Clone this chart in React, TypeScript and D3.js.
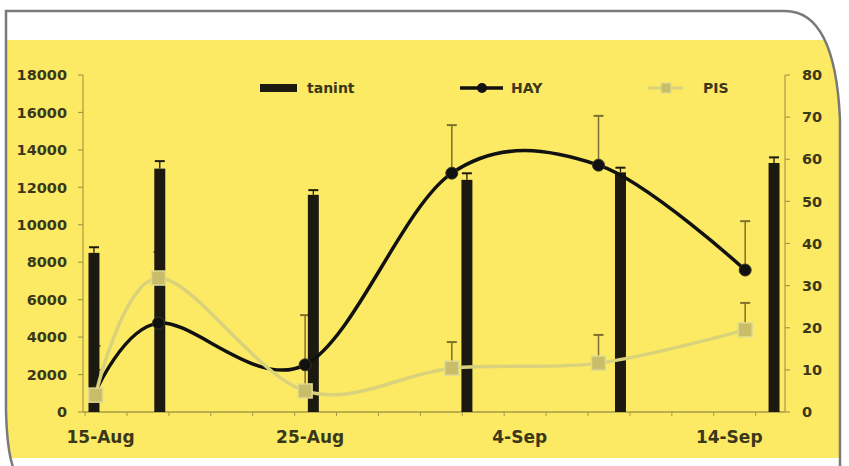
import React from 'react';
import * as d3 from 'd3';

// ---- data ----
const sampleDates = ['15-Aug', '18-Aug', '25-Aug', '1-Sep', '8-Sep', '15-Sep'];
const tanint = [8500, 13000, 11600, 12400, 12800, 13300];
const tanintErr = [300, 400, 250, 350, 250, 300];
const hay = [4.7, 21.1, 11.2, 56.7, 58.6, 33.7];
const hayErr = [11, 11.5, 11.8, 11.4, 11.7, 11.6];
const pis = [4, 31.8, 5, 10.4, 11.6, 19.5];
const pisErr = [6, 6.2, 6, 6.2, 6.7, 6.4];
const xTickLabels = ['15-Aug', '25-Aug', '4-Sep', '14-Sep'];
const leftTicks = [0, 2000, 4000, 6000, 8000, 10000, 12000, 14000, 16000, 18000];
const rightTicks = [0, 10, 20, 30, 40, 50, 60, 70, 80];
const seriesNames = ['tanint', 'HAY', 'PIS'];

const W = 849;
const H = 466;
const parse = d3.timeParse('%d-%b-%Y');
const origin = parse('15-Aug-2013') as Date;
const dayOf = (s: string) => d3.timeDay.count(origin, parse(s + '-2013') as Date);

const plotL = 83;
const plotR = 785;
const plotT = 75;
const plotB = 412;

const xLine = d3.scaleLinear().domain([-0.6, 32.9]).range([plotL, plotR]);
const xBar = d3.scaleLinear().domain([-0.5, 31.5]).range([plotL, plotR]);
const yL = d3.scaleLinear().domain([0, 18000]).range([plotB, plotT]);
const yR = d3.scaleLinear().domain([0, 80]).range([plotB, plotT]);

const YELLOW = '#fcea64';
const LABEL = '#3b3819';
const AXIS = '#a89a45';
const BAR = '#1c1a10';
const PISC = '#d9d27a';
const ERR = '#7d6f2e';
const FONT = 'DejaVu Sans, sans-serif';

const framePath =
  'M 15 472 Q 7 455 6 410 L 6 11 L 785 11 C 820 11 837 50 840 120 L 840 472';

export default function App() {
  const days = sampleDates.map(dayOf);
  const barW = (xBar(1) - xBar(0)) * 0.5;
  const line = d3
    .line<[number, number]>()
    .x((d) => d[0])
    .y((d) => d[1])
    .curve(d3.curveCardinal.tension(0));
  const hayPts: [number, number][] = days.map((d, i) => [xLine(d), yR(hay[i])]);
  const pisPts: [number, number][] = days.map((d, i) => [xLine(d), yR(pis[i])]);

  const minorTicks: number[] = [];
  for (let d = -0.5; xLine(d) <= plotR; d += 2) minorTicks.push(d);

  return (
    <svg
      width={W}
      height={H}
      style={{ position: 'absolute', left: 0, top: 0, background: '#fff' }}
      fontFamily={FONT}
    >
      <defs>
        <clipPath id="frameClip">
          <path d={framePath + ' Z'} />
        </clipPath>
      </defs>
      <g clipPath="url(#frameClip)">
        <rect x={0} y={40} width={W} height={418} fill={YELLOW} />
      </g>
      <path d={framePath} fill="none" stroke="#7a7a7a" strokeWidth={2.5} />

      {/* left axis */}
      <line x1={plotL} x2={plotL} y1={plotT} y2={plotB} stroke={AXIS} strokeWidth={1.2} />
      {leftTicks.map((t) => (
        <g key={'l' + t}>
          <line x1={plotL - 5} x2={plotL} y1={yL(t)} y2={yL(t)} stroke={AXIS} strokeWidth={1.2} />
          <text
            x={plotL - 16}
            y={yL(t)}
            dy="0.36em"
            textAnchor="end"
            fontSize={14.5}
            fontWeight="bold"
            fill={LABEL}
          >
            {t}
          </text>
        </g>
      ))}

      {/* right axis */}
      <line x1={plotR} x2={plotR} y1={plotT} y2={plotB} stroke={AXIS} strokeWidth={1.2} />
      {rightTicks.map((t) => (
        <g key={'r' + t}>
          <line x1={plotR} x2={plotR + 5} y1={yR(t)} y2={yR(t)} stroke={AXIS} strokeWidth={1.2} />
          <text
            x={plotR + 17}
            y={yR(t)}
            dy="0.36em"
            textAnchor="start"
            fontSize={14.5}
            fontWeight="bold"
            fill={LABEL}
          >
            {t}
          </text>
        </g>
      ))}

      {/* x axis */}
      <line x1={plotL} x2={plotR} y1={plotB} y2={plotB} stroke={AXIS} strokeWidth={1.5} />
      {minorTicks.map((d) => (
        <line key={'m' + d} x1={xLine(d)} x2={xLine(d)} y1={plotB} y2={plotB + 4} stroke={AXIS} strokeWidth={1} />
      ))}
      {xTickLabels.map((s) => (
        <text
          key={s}
          x={xLine(dayOf(s)) + 5}
          y={443}
          textAnchor="middle"
          fontSize={17}
          fontWeight="bold"
          fill={LABEL}
        >
          {s}
        </text>
      ))}

      {/* error bars of lines (drawn beneath the columns) */}
      {days.map((d, i) => {
        const cx = xLine(d);
        const h0 = yR(hay[i]);
        const h1 = yR(hay[i] + hayErr[i]);
        const p0 = yR(pis[i]);
        const p1 = yR(pis[i] + pisErr[i]);
        return (
          <g key={'e' + i} stroke={ERR}>
            <line x1={cx} x2={cx} y1={h0} y2={h1} strokeWidth={1.5} />
            <line x1={cx - 5} x2={cx + 5} y1={h1} y2={h1} strokeWidth={2} />
            <line x1={cx} x2={cx} y1={p0} y2={p1} strokeWidth={1.5} />
            <line x1={cx - 5} x2={cx + 5} y1={p1} y2={p1} strokeWidth={2} />
          </g>
        );
      })}

      {/* bars */}
      {days.map((d, i) => {
        const cx = xBar(d);
        const top = yL(tanint[i]);
        const et = yL(tanint[i] + tanintErr[i]);
        return (
          <g key={'b' + i}>
            <rect x={cx - barW / 2} y={top} width={barW} height={plotB - top} fill={BAR} />
            <line x1={cx} x2={cx} y1={top} y2={et} stroke={BAR} strokeWidth={1.3} />
            <line x1={cx - 5} x2={cx + 5} y1={et} y2={et} stroke={BAR} strokeWidth={2} />
          </g>
        );
      })}

      {/* HAY line */}
      <path d={line(hayPts) || ''} fill="none" stroke="#111" strokeWidth={3.5} />
      {hayPts.map((p, i) => (
        <circle key={'hc' + i} cx={p[0]} cy={p[1]} r={6} fill="#111" stroke="#3a3720" strokeWidth={1} />
      ))}

      {/* PIS line */}
      <path d={line(pisPts) || ''} fill="none" stroke={PISC} strokeWidth={3.5} />
      {pisPts.map((p, i) => (
        <rect key={'ps' + i} x={p[0] - 7} y={p[1] - 7} width={14} height={14} fill="#c9bd6a" stroke="#e0da90" strokeWidth={1.5} />
      ))}

      {/* legend */}
      <rect x={260} y={84} width={37} height={8} fill={BAR} />
      <text x={307} y={93} fontSize={14} fontWeight="bold" fill={LABEL}>{seriesNames[0]}</text>
      <line x1={460} x2={503} y1={88} y2={88} stroke="#111" strokeWidth={3.5} />
      <circle cx={482} cy={88} r={5} fill="#111" />
      <text x={511} y={93} fontSize={14} fontWeight="bold" fill={LABEL}>{seriesNames[1]}</text>
      <line x1={648} x2={683} y1={88} y2={88} stroke={PISC} strokeWidth={3} />
      <rect x={661} y={83} width={10} height={10} fill="#c9bd6a" stroke="#e0da90" strokeWidth={1.2} />
      <text x={703} y={93} fontSize={14} fontWeight="bold" fill={LABEL}>{seriesNames[2]}</text>
    </svg>
  );
}
